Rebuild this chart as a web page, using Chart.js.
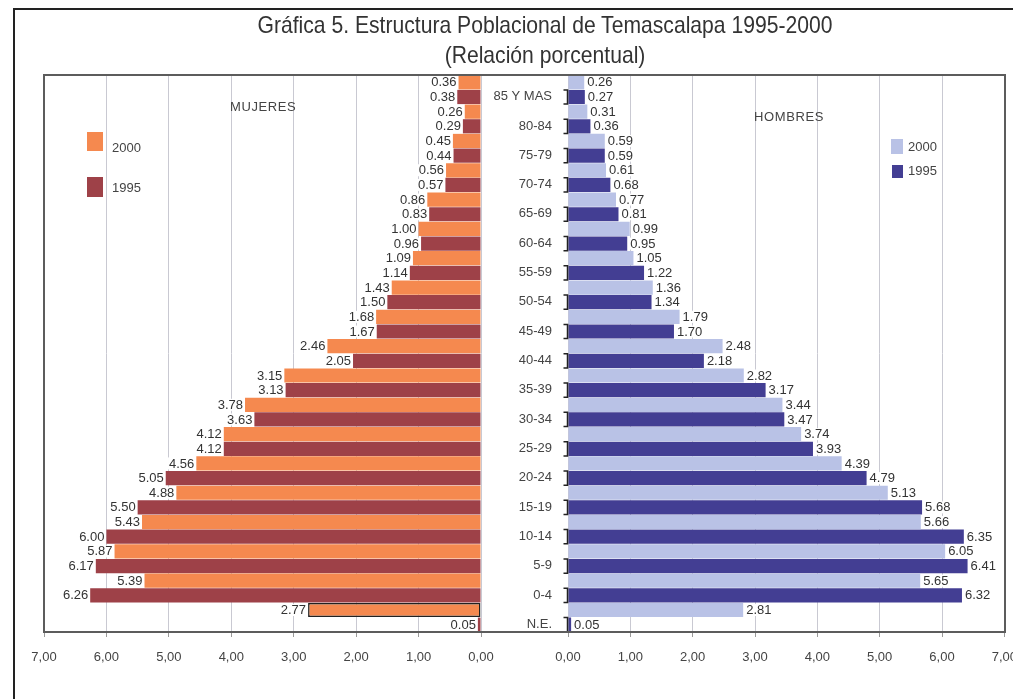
<!DOCTYPE html>
<html lang="es">
<head>
<meta charset="utf-8">
<title>Estructura Poblacional de Temascalapa 1995-2000</title>
<script src="https://cdn.jsdelivr.net/npm/chart.js@4.4.1/dist/chart.umd.min.js"></script>
<style>
  html, body { margin: 0; padding: 0; background: #fff; }
  #page { position: relative; width: 1013px; height: 699px; overflow: hidden; background: #fff; }
  canvas { position: absolute; left: 0; top: 0; }
  .sheet { position: absolute; left: 13px; top: 8px; width: 1100px; height: 800px;
           border-top: 2px solid #222; border-left: 2px solid #222; pointer-events: none; }
  .frame { position: absolute; left: 43px; top: 74px; width: 963px; height: 559px;
           border: 2px solid #5c5c5c; box-sizing: border-box; pointer-events: none; }
  .title { position: absolute; left: 0; width: 1090px; text-align: center; color: #333;
           font-family: "Liberation Sans", Arial, sans-serif;
           font-size: 24px; line-height: 28px; white-space: nowrap;
           transform: scaleX(0.88); transform-origin: 545px 0; }
  .side { position: absolute; font-family: "Liberation Sans", Arial, sans-serif; font-size: 13px;
          color: #444; letter-spacing: 0.6px; line-height: 14px; }
  .leg { position: absolute; font-family: "Liberation Sans", Arial, sans-serif; font-size: 13px;
         color: #444; line-height: 14px; }
  .leg .sw { position: absolute; left: 0; }
  .leg .tx { position: absolute; white-space: nowrap; }
</style>
</head>
<body>
<div id="page">
  <div class="sheet"></div>
  <canvas id="mujeres" width="1030" height="699"></canvas>
  <canvas id="hombres" width="1030" height="699"></canvas>
  <div class="frame"></div>
  <div class="title" style="top:11px">Gráfica 5. Estructura Poblacional de Temascalapa 1995-2000</div>
  <div class="title" style="top:41px">(Relación porcentual)</div>
  <div class="side" style="left:230px; top:100px">MUJERES</div>
  <div class="side" style="left:754px; top:110px">HOMBRES</div>
  <div id="legMujeres"></div>
  <div id="legHombres"></div>
</div>
<script>
// Grupos de edad, de mayor a menor
const ageGroups = ['85 Y MAS', '80-84', '75-79', '70-74', '65-69', '60-64', '55-59', '50-54',
  '45-49', '40-44', '35-39', '30-34', '25-29', '20-24', '15-19', '10-14', '5-9', '0-4', 'N.E.'];

// Porcentaje de mujeres por grupo de edad
const women2000 = [0.36, 0.26, 0.45, 0.56, 0.86, 1.00, 1.09, 1.43, 1.68, 2.46,
  3.15, 3.78, 4.12, 4.56, 4.88, 5.43, 5.87, 5.39, 2.77];
const women1995 = [0.38, 0.29, 0.44, 0.57, 0.83, 0.96, 1.14, 1.50, 1.67, 2.05,
  3.13, 3.63, 4.12, 5.05, 5.50, 6.00, 6.17, 6.26, 0.05];

// Porcentaje de hombres por grupo de edad
const men2000 = [0.26, 0.31, 0.59, 0.61, 0.77, 0.99, 1.05, 1.36, 1.79, 2.48,
  2.82, 3.44, 3.74, 4.39, 5.13, 5.66, 6.05, 5.65, 2.81];
const men1995 = [0.27, 0.36, 0.59, 0.68, 0.81, 0.95, 1.22, 1.34, 1.70, 2.18,
  3.17, 3.47, 3.93, 4.79, 5.68, 6.35, 6.41, 6.32, 0.05];

const yearLabels = ['2000', '1995'];
const axisMin = 0;
const axisMax = 7;

const COLORS = {
  women2000: '#f5894f',
  women1995: '#9e4148',
  men2000: '#b9c2e6',
  men1995: '#433e93',
  grid: '#c9c9d2',
  text: '#333'
};

const W = 1030;
const SMALL_FONT = { family: '"Liberation Sans", Arial, sans-serif', size: 13 };
const fmtAxis = v => Number(v).toFixed(2).replace('.', ',');

// Etiquetas con el valor de cada barra, sobre un recuadro blanco
const valueLabels = {
  id: 'valueLabels',
  afterDatasetsDraw(chart, args, opts) {
    const ctx = chart.ctx;
    ctx.save();
    ctx.font = '13px "Liberation Sans", Arial, sans-serif';
    ctx.textBaseline = 'middle';
    ctx.textAlign = 'left';
    chart.data.datasets.forEach((ds, di) => {
      const meta = chart.getDatasetMeta(di);
      meta.data.forEach((bar, i) => {
        const txt = ds.data[i].toFixed(2);
        const w = ctx.measureText(txt).width;
        const x = opts.side === 'left' ? bar.x - 2 - w : bar.x + 3;
        ctx.fillStyle = '#fff';
        ctx.fillRect(x - 1, bar.y - 6, w + 2, 12);
        ctx.fillStyle = COLORS.text;
        ctx.fillText(txt, x, bar.y + 0.5);
      });
    });
    ctx.restore();
  }
};

// Corchetes del eje de categorías junto a cada barra de 1995
const ageBrackets = {
  id: 'ageBrackets',
  afterDatasetsDraw(chart) {
    const ctx = chart.ctx;
    const meta = chart.getDatasetMeta(1);
    const x = chart.chartArea.left - 0.5;
    ctx.save();
    ctx.strokeStyle = '#222';
    ctx.lineWidth = 1.5;
    meta.data.forEach(bar => {
      const top = bar.y - bar.height / 2;
      const bottom = bar.y + bar.height / 2;
      ctx.beginPath();
      ctx.moveTo(x - 4, top);
      ctx.lineTo(x, top);
      ctx.lineTo(x, bottom);
      ctx.lineTo(x - 4, bottom);
      ctx.stroke();
    });
    ctx.restore();
  }
};

function makeDatasets(d2000, d1995, c2000, c1995, outlineLast) {
  const last = ageGroups.length - 1;
  return [
    {
      label: yearLabels[0], data: d2000, backgroundColor: c2000,
      borderColor: '#222',
      borderWidth: c => (outlineLast && c.dataIndex === last) ? 1.5 : 0,
      borderSkipped: false,
      barPercentage: 0.97, categoryPercentage: 1
    },
    {
      label: yearLabels[1], data: d1995, backgroundColor: c1995,
      borderWidth: 0,
      barPercentage: 0.97, categoryPercentage: 1
    }
  ];
}

function xScale(reverse) {
  return {
    reverse: reverse,
    min: axisMin, max: axisMax,
    ticks: { stepSize: 1, callback: fmtAxis, font: SMALL_FONT, color: '#444',
             padding: 13, maxRotation: 0, autoSkip: false },
    grid: { color: COLORS.grid, tickLength: 5, tickColor: '#999' },
    border: { display: false },
    afterFit(s) { s.height = 67; }
  };
}

new Chart(document.getElementById('mujeres'), {
  type: 'bar',
  data: { labels: ageGroups, datasets: makeDatasets(women2000, women1995, COLORS.women2000, COLORS.women1995, true) },
  options: {
    indexAxis: 'y', responsive: false, animation: false, devicePixelRatio: 1,
    layout: { padding: { left: 44, right: W - 481, top: 75, bottom: 0 } },
    plugins: { legend: { display: false }, tooltip: { enabled: false }, valueLabels: { side: 'left' } },
    scales: { x: xScale(true), y: { display: false } }
  },
  plugins: [valueLabels]
});

new Chart(document.getElementById('hombres'), {
  type: 'bar',
  data: { labels: ageGroups, datasets: makeDatasets(men2000, men1995, COLORS.men2000, COLORS.men1995, false) },
  options: {
    indexAxis: 'y', responsive: false, animation: false, devicePixelRatio: 1,
    layout: { padding: { left: 481, right: W - 1005, top: 75, bottom: 0 } },
    plugins: { legend: { display: false }, tooltip: { enabled: false }, valueLabels: { side: 'right' } },
    scales: {
      x: xScale(false),
      y: {
        ticks: { font: SMALL_FONT, color: '#444', padding: 16, labelOffset: 7 },
        grid: { display: false, drawTicks: false },
        border: { display: false },
        afterFit(s) { s.width = 87; }
      }
    }
  },
  plugins: [valueLabels, ageBrackets]
});

// Leyendas de cada lado
function buildLegend(el, items) {
  items.forEach(it => {
    const box = document.createElement('div');
    box.className = 'leg';
    box.style.left = it.left + 'px';
    box.style.top = it.top + 'px';
    const sw = document.createElement('div');
    sw.className = 'sw';
    sw.style.width = it.w + 'px';
    sw.style.height = it.h + 'px';
    sw.style.background = it.color;
    const tx = document.createElement('div');
    tx.className = 'tx';
    tx.style.left = it.textLeft + 'px';
    tx.style.top = it.textTop + 'px';
    tx.textContent = it.label;
    box.appendChild(sw);
    box.appendChild(tx);
    el.appendChild(box);
  });
}
buildLegend(document.getElementById('legMujeres'), [
  { label: yearLabels[0], color: COLORS.women2000, left: 87, top: 132, w: 16, h: 19, textLeft: 25, textTop: 9 },
  { label: yearLabels[1], color: COLORS.women1995, left: 87, top: 177, w: 16, h: 20, textLeft: 25, textTop: 4 }
]);
buildLegend(document.getElementById('legHombres'), [
  { label: yearLabels[0], color: COLORS.men2000, left: 891, top: 139, w: 12, h: 15, textLeft: 17, textTop: 1 },
  { label: yearLabels[1], color: COLORS.men1995, left: 892, top: 165, w: 11, h: 13, textLeft: 16, textTop: -1 }
]);
</script>
</body>
</html>
